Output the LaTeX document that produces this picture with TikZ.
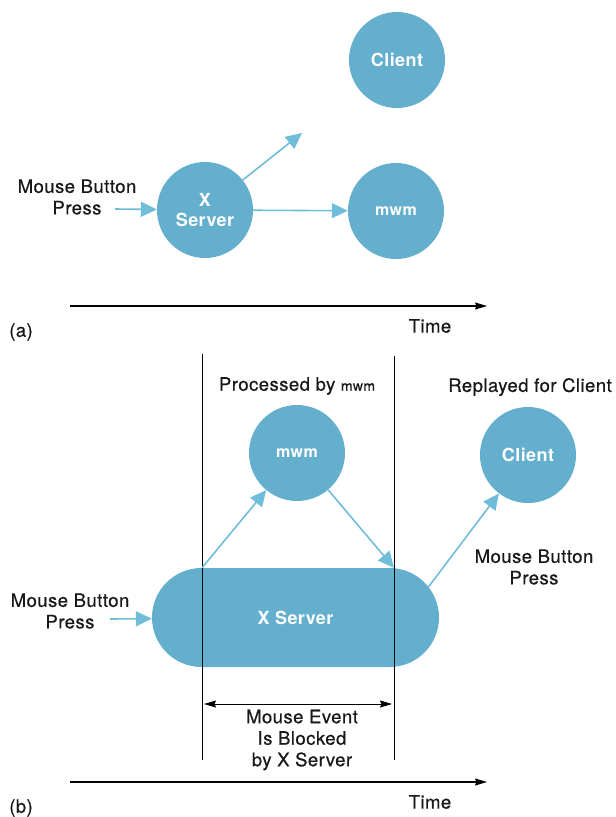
\documentclass[tikz,border=0pt]{standalone}
\usepackage{fontspec}
\setmainfont[LetterSpace=2.5]{TeX Gyre Heros}
\usepackage{tikz}
\usetikzlibrary{arrows.meta, shapes.misc}
\definecolor{bubble}{RGB}{99,175,205}
\definecolor{flowline}{RGB}{112,189,218}
\tikzset{proc/.style = {circle,fill=bubble,text=white,font=\fontsize{18}{20}\selectfont\bfseries,minimum size=96pt,inner sep=0pt,align=center},
         small/.style = {font=\fontsize{16}{16}\selectfont\bfseries},
         flow/.style = {draw=flowline,line width=1.6pt,-{Triangle[length=16pt,width=15pt]}},
         lbl/.style = {font=\fontsize{18.5}{21.5}\selectfont\addfontfeature{FakeBold=0.6},text=black!90,align=center,inner sep=0pt},
         timeline/.style = {line width=1.2pt,-{Stealth[length=12pt,width=7pt,inset=1.5pt]}}}

\begin{document}
\begin{tikzpicture}[x=1pt,y=-1pt]
            \useasboundingbox (0,0) rectangle (616,817);

            % (a)
            \node [proc] (cla) at (397,60) {Client};
            \node [proc] (xsa) at (205,210) {X\\Server};
            \node [proc,small] (mwma) at (396,211) {mwm};
            \node [lbl] (mbpa) at (77,197) {Mouse Button\\Press};
            \coordinate (ina) at (115,209);
            \coordinate (outa) at (302,133);
            \draw [flow] (ina) -- (xsa);
            \draw [flow] (xsa) -- (outa);
            \draw [flow] (xsa) -- (mwma);

            \foreach \ty/\tp in {306/a, 782/b}{
                \coordinate (t0\tp) at (70,\ty);
                \coordinate (t1\tp) at (487,\ty);
                \draw [timeline] (t0\tp) -- (t1\tp);
                \node [lbl] (time\tp) at (430,\ty+20) {Time};
                \node [lbl] (tag\tp) at (21,\ty+26) {(\tp)};
            }

            % (b)
            \node [rounded rectangle,fill=bubble,text=white,font=\fontsize{18}{20}\selectfont\bfseries,
                   minimum width=287pt,minimum height=99pt,inner sep=0pt] (xsb) at (295.5,617.5) {X Server};
            \node [proc,small] (mwmb) at (297,453) {mwm};
            \node [proc] (clb) at (528,455) {Client};
            \node [lbl] (procd) at (297,386) {Processed by {\fontsize{14}{14}\selectfont mwm}};
            \node [lbl] (replay) at (530,387) {Replayed for Client};
            \node [lbl] (mbpb) at (70,611) {Mouse Button\\Press};
            \node [lbl] (mbpc) at (534,567) {Mouse Button\\Press};
            \coordinate (inb) at (110,619);
            \draw [flow] (inb) -- (xsb);

            \foreach \vx/\vt/\vn in {202/354/l, 394/356/r}{
                \coordinate (\vn t) at (\vx,\vt);
                \coordinate (\vn b) at (\vx,760);
                \draw [line width=0.9pt] (\vn t) -- (\vn b);
            }

            \draw [flow] (xsb.north -| lt) -- (mwmb);
            \draw [flow] (mwmb) -- (xsb.north -| rt);
            \draw [flow] (xsb.13) -- (clb);

            \coordinate (bl) at (204,704);
            \coordinate (br) at (392,704);
            \draw [line width=1pt,{Stealth[length=12pt,width=7pt,inset=1.5pt]}-{Stealth[length=12pt,width=7pt,inset=1.5pt]}] (bl) -- (br);
            \node [lbl] (blocked) at (302,740) {Mouse Event\\Is Blocked\\by X Server};
\end{tikzpicture}
\end{document}
